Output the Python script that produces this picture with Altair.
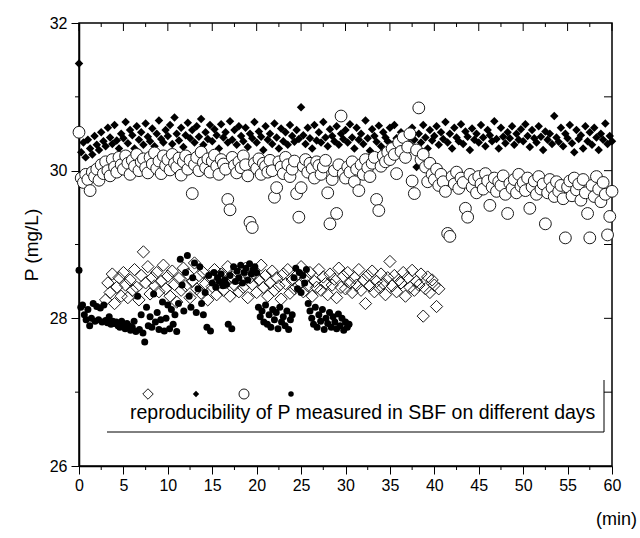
import altair as alt
import pandas as pd

# ---------------- data ----------------
# open diamonds: first sample at 3.0 min, one sample every 0.25 min
A_START, A_STEP = 3.0, 0.25
A_VALUES = [
    28.25, 28.48, 28.35, 28.60, 28.20, 28.42, 28.55, 28.30,
    28.62, 28.45, 28.28, 28.52, 28.38, 28.66, 28.42, 28.25, 28.58, 28.90, 28.48, 28.70, 28.33, 28.55, 28.44, 28.62, 28.36, 28.50, 28.72, 28.40,
    28.57, 28.30, 28.64, 28.46, 28.22, 28.54, 28.38, 28.68, 28.44, 28.60, 28.28, 28.50, 28.75, 28.40, 28.58, 28.34, 28.62, 28.47, 28.25, 28.55,
    28.43, 28.66, 28.32, 28.52, 28.60, 28.38, 28.48, 28.70, 28.30, 28.56, 28.45, 28.63, 28.36, 28.52, 28.42, 28.68, 28.28, 28.55, 28.46, 28.60,
    28.35, 28.52, 28.72, 28.42, 28.58, 28.30, 28.48, 28.64, 28.38, 28.55, 28.44, 28.26, 28.60, 28.47, 28.66, 28.34, 28.52, 28.40, 28.58, 28.45,
    28.70, 28.36, 28.55, 28.44, 28.62, 28.30, 28.50, 28.42, 28.66, 28.38, 28.56, 28.47, 28.32, 28.60, 28.45, 28.53, 28.28, 28.68, 28.42, 28.57,
    28.40, 28.62, 28.48, 28.35, 28.55, 28.45, 28.66, 28.38, 28.52, 28.20, 28.58, 28.44, 28.64, 28.36, 28.50, 28.42, 28.60, 28.47, 28.32, 28.55,
    28.77, 28.44, 28.58, 28.36, 28.52, 28.48, 28.62, 28.30, 28.55, 28.42, 28.65, 28.38, 28.50, 28.45, 28.60, 28.03, 28.40, 28.56, 28.35, 28.52,
    28.45, 28.16, 28.40,
]

# filled diamonds: 0 .. 60 min, every 0.25 min
B_START, B_STEP = 0.0, 0.25
B_VALUES = [
    31.45, 30.25, 30.38, 30.18, 30.42, 30.30, 30.22, 30.47, 30.35, 30.28, 30.52, 30.40, 30.33, 30.58, 30.45, 30.36, 30.62, 30.41, 30.30, 30.50,
    30.44, 30.66, 30.37, 30.55, 30.48, 30.30, 30.60, 30.42, 30.52, 30.35, 30.64, 30.46, 30.40, 30.57, 30.33, 30.50, 30.68, 30.43, 30.38, 30.55,
    30.47, 30.62, 30.36, 30.72, 30.50, 30.41, 30.58, 30.32, 30.48, 30.65, 30.44, 30.55, 30.38, 30.60, 30.46, 30.70, 30.35, 30.52, 30.43, 30.62,
    30.40, 30.56, 30.48, 30.30, 30.63, 30.45, 30.52, 30.38, 30.67, 30.42, 30.55, 30.35, 30.60, 30.47, 30.40, 30.58, 30.32, 30.50, 30.44, 30.66,
    30.38, 30.53, 30.46, 30.28, 30.60, 30.42, 30.50, 30.36, 30.64, 30.45, 30.30, 30.57, 30.40, 30.52, 30.35, 30.62, 30.47, 30.39, 30.55, 30.43,
    30.86, 30.48, 30.36, 30.58, 30.44, 30.30, 30.62, 30.41, 30.52, 30.38, 30.66, 30.45, 30.33, 30.56, 30.47, 30.40, 30.60, 30.35, 30.50, 30.43,
    30.55, 30.38, 30.63, 30.45, 30.30, 30.58, 30.42, 30.50, 30.36, 30.68, 30.44, 30.27, 30.56, 30.47, 30.39, 30.61, 30.33, 30.52, 30.45, 30.40,
    30.58, 30.35, 30.62, 30.44, 30.25, 30.52, 30.40, 30.15, 30.48, 30.36, 30.58, 30.42, 30.05, 30.50, 30.38, 30.62, 30.45, 30.30, 30.55, 30.41,
    30.47, 30.60, 30.35, 30.52, 30.43, 30.66, 30.38, 30.50, 30.30, 30.58, 30.45, 30.40, 30.63, 30.36, 30.53, 30.46, 30.28, 30.57, 30.42, 30.50,
    30.38, 30.62, 30.45, 30.33, 30.55, 30.48, 30.40, 30.67, 30.43, 30.30, 30.58, 30.46, 30.37, 30.52, 30.44, 30.60, 30.35, 30.50, 30.42, 30.56,
    30.40, 30.63, 30.47, 30.32, 30.55, 30.44, 30.38, 30.60, 30.46, 30.28, 30.53, 30.42, 30.50, 30.36, 30.74, 30.45, 30.39, 30.58, 30.33, 30.50,
    30.44, 30.62, 30.37, 30.25, 30.55, 30.43, 30.48, 30.30, 30.60, 30.40, 30.52, 30.35, 30.58, 30.45, 30.28, 30.50, 30.42, 30.64, 30.36, 30.47, 30.40,
]

# open circles: 0 .. 60 min, every 0.25 min
C_START, C_STEP = 0.0, 0.25
C_VALUES = [
    30.52, 29.90, 29.84, 29.95, 29.88, 29.73, 29.98, 29.92, 30.02, 29.87, 30.08, 29.96, 30.12, 30.00, 29.93, 30.15, 30.05, 29.98, 30.18, 30.08,
    30.02, 30.20, 30.10, 29.95, 30.14, 30.06, 30.22, 30.00, 30.12, 30.16, 30.04, 29.97, 30.18, 30.09, 30.24, 30.03, 30.13, 29.96, 30.20, 30.07,
    30.15, 30.01, 30.22, 30.10, 30.05, 30.17, 29.94, 30.12, 30.20, 30.02, 30.14, 29.69, 30.08, 30.18, 30.00, 30.25, 30.11, 30.04, 30.16, 29.98,
    30.13, 30.21, 30.06, 29.95, 30.15, 30.09, 30.02, 29.61, 29.47, 30.18, 30.07, 29.97, 30.12, 30.04, 30.20, 30.08, 29.93, 29.30, 29.23, 30.10,
    30.03, 30.16, 29.95, 30.10, 30.06, 29.98, 30.14, 30.00, 29.64, 29.77, 30.12, 30.05, 29.96, 30.18, 30.08, 29.92, 30.02, 30.13, 29.69, 29.37,
    29.77, 30.06, 30.15, 29.98, 30.10, 30.03, 29.90, 30.12, 30.07, 29.95, 30.05, 30.14, 29.70, 29.28, 29.88, 30.00, 29.42, 30.08, 30.74, 29.96,
    29.90, 30.05, 29.98, 30.12, 29.85, 30.02, 29.73, 30.08, 29.95, 30.15, 30.04, 29.92, 30.10, 30.18, 29.61, 29.46, 30.06, 30.20, 30.12, 30.25,
    30.15, 30.30, 30.22, 29.96, 30.38, 30.26, 30.45, 30.18, 30.32, 30.50, 29.86, 29.69, 30.28, 30.85, 30.15, 30.22, 30.05, 29.85, 30.10, 29.95,
    29.88, 30.02, 29.80, 29.95, 29.85, 29.72, 29.15, 29.11, 29.92, 29.82, 29.98, 29.76, 29.90, 29.84, 29.49, 29.37, 29.95, 29.78, 29.88, 29.70,
    29.92, 29.82, 29.75, 29.96, 29.86, 29.53, 29.78, 29.90, 29.72, 29.85, 29.80, 29.93, 29.68, 29.42, 29.83, 29.76, 29.88, 29.70, 29.95, 29.79,
    29.84, 29.73, 29.90, 29.49, 29.78, 29.86, 29.68, 29.92, 29.75, 29.82, 29.28, 29.70, 29.88, 29.77, 29.65, 29.85, 29.72, 29.80, 29.62, 29.09,
    29.78, 29.86, 29.66, 29.90, 29.74, 29.82, 29.60, 29.88, 29.70, 29.42, 29.09, 29.80, 29.65, 29.92, 29.75, 29.58, 29.84, 29.68, 29.13, 29.38, 29.72,
]

# filled circles: 0 .. 30.4 min, every 0.2 min
D_START, D_STEP = 0.0, 0.2
D_VALUES = [
    28.65, 28.15, 28.18, 28.05, 27.98, 28.12, 27.90, 28.00, 28.20, 27.96,
    28.16, 27.98, 28.14, 27.95, 28.18, 27.97, 27.94, 28.02, 27.92, 27.96,
    27.93, 27.95, 27.90, 27.88, 27.96, 27.92, 27.86, 27.93, 27.90, 27.84,
    27.88, 27.96, 27.82, 28.30, 27.85, 28.05, 27.80, 27.68, 28.15, 27.90,
    28.02, 27.88, 28.33, 27.95, 28.08, 27.85, 27.98, 28.22, 27.83, 28.00,
    28.18, 27.86, 28.12, 27.92, 28.05, 27.82, 28.20, 28.80, 28.45, 28.10,
    28.62, 28.85, 28.30, 28.15, 28.55, 28.75, 28.08, 28.40, 28.70, 28.20,
    28.05, 28.35, 27.88, 28.58, 27.83, 28.48, 28.62, 28.42, 28.55, 28.50,
    28.60, 28.44, 28.52, 28.46, 27.92, 28.58, 27.86, 28.70, 28.50, 28.64,
    28.55, 28.72, 28.48, 28.62, 28.68, 28.52, 28.74, 28.60, 28.66, 28.70,
    28.62, 28.15, 28.02, 28.10, 27.95, 28.18, 27.92, 28.05, 27.88, 28.12,
    27.98, 28.08, 27.86, 28.15, 27.95, 28.02, 27.90, 28.10, 27.85, 27.98,
    28.05, 28.55, 28.68, 28.40, 28.62, 28.35, 28.58, 28.48, 28.66, 28.20,
    28.10, 28.00, 27.92, 28.15, 27.88, 28.05, 27.96, 28.12, 27.85, 28.00,
    27.93, 28.08, 27.88, 28.02, 27.95, 27.86, 28.06, 27.90, 28.00, 27.84,
    27.95, 27.88, 27.92,
]

X_LABELS = [0, 5, 10, 15, 20, 25, 30, 35, 40, 45, 50, 55, 60]
X_MINOR = [2.5, 7.5, 12.5, 17.5, 22.5, 27.5, 32.5, 37.5, 42.5, 47.5, 52.5, 57.5]
Y_LABELS = [26, 28, 30, 32]
Y_MINOR = [27, 29, 31]
Y_RIGHT = [27, 28, 29, 30, 31]
LEGEND_TEXT = "reproducibility of P measured in SBF on different days"

# ---------------- chart ----------------
W, H = 533, 443
FONT = "Liberation Sans"


def series(start, step, vals):
    return pd.DataFrame({"t": [round(start + i * step, 3) for i in range(len(vals))], "p": vals})


xs = alt.Scale(domain=[0, 60], nice=False, zero=False)
ys = alt.Scale(domain=[26, 32], nice=False, zero=False)

X = alt.X("t:Q", scale=xs, axis=alt.Axis(values=X_LABELS, title=None, tickSize=8, labelPadding=3,
                                           labelFontSize=16, labelFont=FONT, labelColor="black",
                                           format="d",
                                           domainColor="black", domainWidth=1.5, tickColor="black",
                                           tickWidth=1, grid=False, labelFlush=False))
Y = alt.Y("p:Q", scale=ys, axis=alt.Axis(values=Y_LABELS, title="P (mg/L)", tickSize=8, labelPadding=4,
                                           labelFontSize=16, labelFont=FONT, labelColor="black",
                                           format="d",
                                           titleFont=FONT, titleFontSize=19, titleFontWeight="normal",
                                           titleColor="black", titlePadding=8,
                                           domainColor="black", domainWidth=1.5, tickColor="black",
                                           tickWidth=1, grid=False, labelFlush=False))

stroke = "#1a1a1a"
a = alt.Chart(series(A_START, A_STEP, A_VALUES)).mark_point(
    shape="diamond", size=150, filled=False, stroke=stroke, strokeWidth=1, opacity=1).encode(x=X, y=Y)
b = alt.Chart(series(B_START, B_STEP, B_VALUES)).mark_point(
    shape="diamond", size=72, filled=True, color="black", opacity=1).encode(x="t:Q", y="p:Q")
c = alt.Chart(series(C_START, C_STEP, C_VALUES)).mark_point(
    shape="circle", size=140, filled=False, fill="white", fillOpacity=1, stroke=stroke, strokeWidth=1,
    opacity=1).encode(x="t:Q", y="p:Q")
d = alt.Chart(series(D_START, D_STEP, D_VALUES)).mark_point(
    shape="circle", size=49, filled=True, color="black", opacity=1).encode(x="t:Q", y="p:Q")

# extra ticks: minor outward ticks, inward ticks on top/right
xmin_df = pd.DataFrame({"v": X_MINOR})
xmaj_df = pd.DataFrame({"v": X_LABELS})
ymin_df = pd.DataFrame({"v": Y_MINOR})
yr_df = pd.DataFrame({"v": Y_RIGHT})

bottom_minor = alt.Chart(xmin_df).mark_rule(color="black", strokeWidth=1).encode(
    x=alt.X("v:Q", scale=xs), y=alt.value(H), y2=alt.value(H + 4))
top_major = alt.Chart(xmaj_df).mark_rule(color="black", strokeWidth=1).encode(
    x=alt.X("v:Q", scale=xs), y=alt.value(0), y2=alt.value(8))
top_minor = alt.Chart(xmin_df).mark_rule(color="black", strokeWidth=1).encode(
    x=alt.X("v:Q", scale=xs), y=alt.value(0), y2=alt.value(4))
left_minor = alt.Chart(ymin_df).mark_rule(color="black", strokeWidth=1).encode(
    y=alt.Y("v:Q", scale=ys), x=alt.value(-4), x2=alt.value(0))
right_ticks = alt.Chart(yr_df).mark_rule(color="black", strokeWidth=1).encode(
    y=alt.Y("v:Q", scale=ys), x=alt.value(W - 8), x2=alt.value(W))

one = pd.DataFrame({"k": [0]})
# legend frame (bottom and right edges) and symbols
leg_bottom = alt.Chart(one).mark_rule(color="black", strokeWidth=1).encode(
    x=alt.value(28), x2=alt.value(525), y=alt.value(409))
leg_right = alt.Chart(one).mark_rule(color="black", strokeWidth=1).encode(
    x=alt.value(525), y=alt.value(357), y2=alt.value(409))
leg_a = alt.Chart(one).mark_point(shape="diamond", size=110, filled=False, stroke=stroke, strokeWidth=1,
                                  opacity=1).encode(x=alt.value(69), y=alt.value(371))
leg_b = alt.Chart(one).mark_point(shape="diamond", size=40, filled=True, color="black",
                                  opacity=1).encode(x=alt.value(117), y=alt.value(371))
leg_c = alt.Chart(one).mark_point(shape="circle", size=100, filled=False, stroke=stroke, strokeWidth=1,
                                  opacity=1).encode(x=alt.value(165), y=alt.value(371))
leg_d = alt.Chart(one).mark_point(shape="circle", size=30, filled=True, color="black",
                                  opacity=1).encode(x=alt.value(212), y=alt.value(371))
leg_text = alt.Chart(one).mark_text(text=LEGEND_TEXT, font=FONT, fontSize=19.5, align="left",
                                    baseline="middle", color="black").encode(
    x=alt.value(51), y=alt.value(390))
min_text = alt.Chart(one).mark_text(text="(min)", font=FONT, fontSize=18, align="right",
                                    baseline="middle", color="black").encode(
    x=alt.value(W + 25), y=alt.value(H + 54))

chart = alt.layer(
    a, b, c, d,
    bottom_minor, top_major, top_minor, left_minor, right_ticks,
    leg_bottom, leg_right, leg_a, leg_b, leg_c, leg_d, leg_text, min_text,
).properties(
    width=W, height=H,
    autosize=alt.AutoSizeParams(type="none"),
    padding={"left": 79, "top": 23, "right": 28, "bottom": 72},
    background="white",
).configure_view(stroke="black", strokeWidth=1.5)

chart.save("out.html", embed_options={"renderer": "svg", "actions": False})
